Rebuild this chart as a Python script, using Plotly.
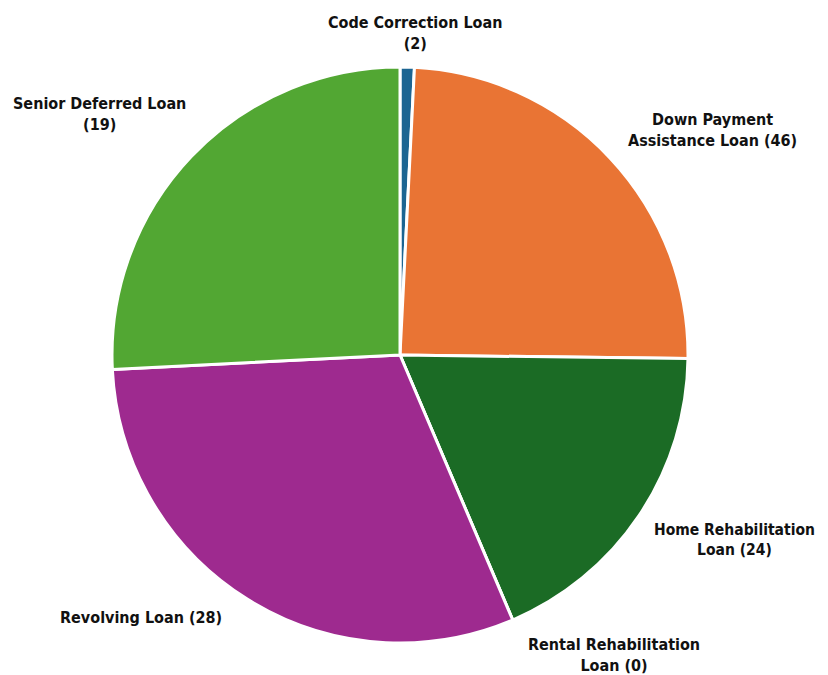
import plotly.graph_objects as go

# Data (share of each loan program) and label counts
categories = ["Code Correction Loan", "Down Payment Assistance Loan", "Home Rehabilitation Loan",
              "Rental Rehabilitation Loan", "Revolving Loan", "Senior Deferred Loan"]
shares = [0.8, 24.4, 18.4, 0.0, 30.6, 25.8]
counts = [2, 46, 24, 0, 28, 19]
label_lines = ["Code Correction Loan<br>(2)", "Down Payment<br>Assistance Loan (46)",
               "Home Rehabilitation<br>Loan (24)", "Rental Rehabilitation<br>Loan (0)",
               "Revolving Loan (28)", "Senior Deferred Loan<br>(19)"]
colors = ["#1c6592", "#e97434", "#1b6b25", "#7f7f7f", "#9e2a8f", "#52a733"]

# page has an 8px body margin; figure is placed at (8, 8) in the window
OFF = 8
W, H = 828 - 2 * OFF, 675 - OFF
CX, CY, R = 400 - OFF, 355 - OFF, 288

# label anchor positions in window pixels (x, y from top), anchors and font size
label_pos = [(415, 33, "center", "middle", 16), (712, 130, "center", "middle", 16),
             (817, 540, "right", "middle", 15.5), (614, 655, "center", "middle", 16),
             (141, 617, "center", "middle", 16), (99, 114, "center", "middle", 16)]

fig = go.Figure(go.Pie(
    labels=categories,
    values=shares,
    text=[str(c) for c in counts],
    sort=False,
    direction="clockwise",
    rotation=0,
    textinfo="none",
    hoverinfo="label+text",
    marker=dict(colors=colors, line=dict(color="white", width=3)),
    domain=dict(x=[(CX - R) / W, (CX + R) / W], y=[(H - CY - R) / H, (H - CY + R) / H]),
    showlegend=False,
))

for txt, (px, py, xa, ya, fs) in zip(label_lines, label_pos):
    font = dict(family="Liberation Sans Narrow, DejaVu Sans Condensed, Arial Narrow, sans-serif",
                size=fs, color="#111111")
    fig.add_annotation(x=(px - OFF) / W, y=1 - (py - OFF) / H, xref="paper", yref="paper",
                       text="<b>" + txt + "</b>", showarrow=False, font=font,
                       xanchor=xa, yanchor=ya, align="center")

fig.update_layout(width=W, height=H, margin=dict(l=0, r=0, t=0, b=0),
                  paper_bgcolor="white", plot_bgcolor="white")
fig.write_html("out.html")
